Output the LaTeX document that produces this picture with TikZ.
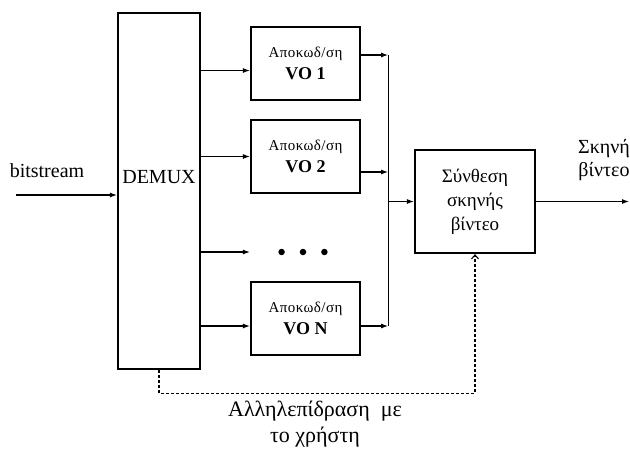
\documentclass[tikz,border=0pt]{standalone}
\usepackage{fontspec}
\setmainfont{Liberation Serif}
\usetikzlibrary{arrows.meta,positioning,calc}
\newcommand{\fsz}[2]{\fontsize{#1}{#2}\selectfont}

\begin{document}
\begin{tikzpicture}[x=1pt,y=-1pt,>={Latex[length=7pt,width=5pt]},
  blk/.style={draw,line width=2.2pt,inner sep=0pt,align=center},
  decbox/.style={blk,minimum width=109pt,minimum height=73pt},
  flow/.style={->,line width=1.1pt},
  fb/.style={line width=1.1pt,dash pattern=on 3pt off 2pt},
  lab/.style={align=center,inner sep=0pt}]
  \useasboundingbox (0,0) rectangle (630,448);

  % ---------- demultiplexer ----------
  \node[blk,minimum width=82pt,minimum height=356pt] (demux) at (159,191) {};
  \node[lab,font=\fsz{20}{24}] (demuxlab) at (159,177) {DEMUX};
  \node[lab,font=\fsz{20}{24}] (inlab) at (47,171) {bitstream};
  \coordinate (in) at (16,195);
  \draw[flow] (in) -- (in -| demux.west);

  % ---------- decoders ----------
  \newcommand{\declab}[1]{{\fsz{15}{17}\addfontfeature{LetterSpace=3}Αποκωδ/ση}\\[6pt]{\fsz{18}{20}\bfseries VO\ #1}}
  \node[decbox] (dec1) at (305.5,63.5) {\declab{1}};
  \node[decbox] (dec2) at (305.5,156.5) {\declab{2}};
  \node[decbox] (decN) at (305.5,318.5) {\declab{N}};
  \node[circle,fill,inner sep=2.3pt] (d2) at (303,252) {};
  \node[circle,fill,inner sep=2.3pt,left=14.5pt of d2] (d1) {};
  \node[circle,fill,inner sep=2.3pt,right=14.5pt of d2] (d3) {};

  \draw[flow] ([yshift=-7pt]dec1.west -| demux.east) -- ([yshift=-7pt]dec1.west);
  \draw[flow] (dec2.west -| demux.east) -- (dec2.west);
  \draw[flow] (d2 -| demux.east) -- (d2 -| decN.west);
  \draw[flow] ([yshift=-7.5pt]decN.west -| demux.east) -- ([yshift=-7.5pt]decN.west);

  % ---------- collecting bus ----------
  \coordinate (bus1) at ($(dec1.east)+(27,-8.5)$);
  \coordinate (busN) at ($(decN.east)+(27,7.5)$);
  \draw[line width=1.1pt] (bus1) -- (busN);
  \draw[flow] ([yshift=8.5pt]dec1.east) -- (bus1);
  \draw[flow] ([yshift=-15.5pt]dec2.east) -- ([yshift=-15.5pt]dec2.east -| bus1);
  \draw[flow] ([yshift=-7.5pt]decN.east) -- (busN);

  % ---------- scene composition ----------
  \node[blk,minimum width=120pt,minimum height=103pt,font=\fsz{19}{24}] (synth) at (475,201.5)
    {Σύνθεση\\σκηνής\\βίντεο};
  \draw[flow] (synth.west -| bus1) -- (synth.west);
  \coordinate (out) at (629,201.5);
  \draw[flow] (synth.east) -- (out);
  \node[lab,font=\fsz{20}{23}] (outlab) at (604,160) {Σκηνή\\βίντεο};

  % ---------- user interaction ----------
  \draw[fb,->,>={Straight Barb[length=4pt,width=7pt]}]
    (demux.south) -- ++(0,23) -| (synth.south);
  \node[lab,font=\fsz{22}{26}] (userlab) at (315,424) {Αλληλεπίδραση\ \ με\\το χρήστη};
\end{tikzpicture}
\end{document}
